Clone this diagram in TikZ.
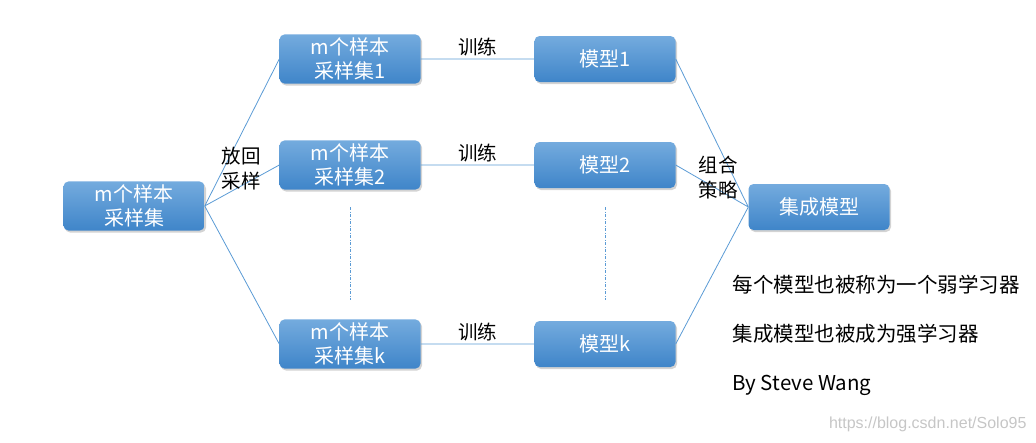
\documentclass[tikz,border=0pt]{standalone}
\usepackage{fontspec}
\setmainfont{Noto Sans CJK SC}
\newfontfamily\markfont{Liberation Sans}
\usetikzlibrary{shadows}

\definecolor{boxtop}{HTML}{74ABDE}
\definecolor{boxbottom}{HTML}{3F85C9}
\definecolor{linkblue}{HTML}{5B9BD5}

\tikzset{
	setbox/.style = {rectangle, rounded corners = 5pt, top color = boxtop, bottom color = boxbottom,
		text = white, minimum width = 141pt, minimum height = 46pt, align = center,
		font = \fontsize{20}{24}\selectfont,
		drop shadow = {shadow xshift = 1.5pt, shadow yshift = -2pt, opacity = 0.35}},
	link/.style = {linkblue, line width = 0.8pt},
	gap/.style = {linkblue, line width = 0.8pt, dash pattern = on 3pt off 1.5pt on 1pt off 1.5pt},
	tag/.style = {text = black, align = center, inner sep = 1pt, font = \fontsize{19.5}{25}\selectfont},
	remark/.style = {text = black, anchor = west, font = \fontsize{20.5}{24}\selectfont}
}

\begin{document}
\begin{tikzpicture}[x = 1pt, y = -1pt]
			\useasboundingbox (0, 0) rectangle (1036, 442);
			% boxes
			\node [setbox] (all) at (134, 206) {m个样本\\采样集};
			\node [setbox] (s1) at (350, 59) {m个样本\\采样集1};
			\node [setbox] (s2) at (350, 165) {m个样本\\采样集2};
			\node [setbox] (sk) at (350, 344) {m个样本\\采样集k};
			\node [setbox] (m1) at (605, 59) {模型1};
			\node [setbox] (m2) at (605, 165) {模型2};
			\node [setbox] (mk) at (605, 344) {模型k};
			\node [setbox] (ens) at (819, 207) {集成模型};
			% links
			\draw[link]
				(all.east) -- (s1.west)
				(all.east) -- (s2.west)
				(all.east) -- (sk.west)
				(s1) -- node [tag, above = 2pt] {训练} (m1)
				(s2) -- node [tag, above = 2pt] {训练} (m2)
				(sk) -- node [tag, above = 2pt] {训练} (mk)
				(m1.east) -- (ens.west)
				(m2.east) -- (ens.west)
				(mk.east) -- (ens.west);
			% dots between rows
			\coordinate (gl1) at (350, 207);
			\coordinate (gl2) at (350, 300);
			\coordinate (gr1) at (605, 207);
			\coordinate (gr2) at (605, 300);
			\draw[gap] (gl1) -- (gl2) (gr1) -- (gr2);
			% labels
			\node [tag] (pick) at (241, 169) {放回\\采样};
			\node [tag] (join) at (718, 178) {组合\\策略};
			\node [remark] (weak) at (729, 285) {每个模型也被称为一个弱学习器};
			\node [remark] (strong) at (729, 334) {集成模型也被成为强学习器};
			\node [remark] (by) at (729, 385) {By Steve Wang};
			\node [text = gray!45, anchor = east, font = \markfont\fontsize{16}{18}\selectfont] (mark) at (1030, 424) {https://blog.csdn.net/Solo95};
		\end{tikzpicture}
\end{document}
